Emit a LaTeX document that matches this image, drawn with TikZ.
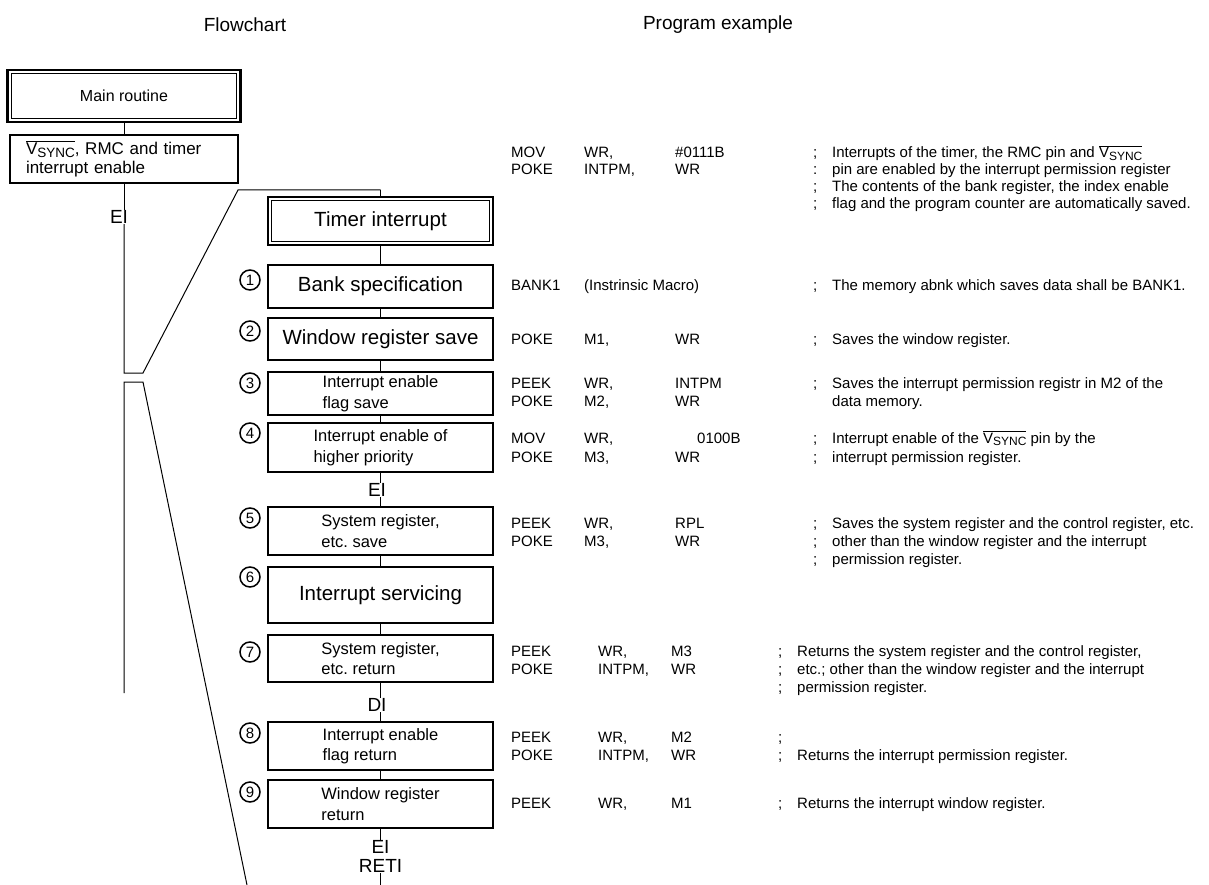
\documentclass[tikz,border=0pt]{standalone}
\usepackage{fontspec}
\setmainfont{Liberation Sans}
\frenchspacing
\newcommand\myfs[1]{\fontsize{#1}{#1}\selectfont}
\newcommand\vsync[1]{\ensuremath{\overline{\mbox{V\raisebox{-0.35ex}{\myfs{#1}SYNC}}}}}
\newcommand\rowA[5]{\makebox[73pt][l]{#1}\makebox[91pt][l]{#2}\makebox[138pt][l]{#3}\makebox[19pt][l]{#4}#5}
\newcommand\rowB[5]{\makebox[87pt][l]{#1}\makebox[73pt][l]{#2}\makebox[107pt][l]{#3}\makebox[19pt][l]{#4}#5}
\begin{document}
\begin{tikzpicture}[x=1pt,y=-1pt,
  box/.style={draw, line width=2.2pt, minimum width=225pt, inner sep=0pt, align=left, font=\fontsize{16.5}{20.5}\selectfont},
  big/.style={font=\myfs{20.5}},
  circ/.style={circle, draw, line width=1.5pt, minimum size=20pt, inner sep=0pt, font=\myfs{15}},
  lbl/.style={inner sep=0.5pt, font=\myfs{19}},
  prog/.style={anchor=base west, inner sep=0pt, font=\myfs{15}},
  conn/.style={line width=1pt},
  inner/.style={line width=0.9pt}]
\fill[white] (0,0) rectangle (1209,885);
\useasboundingbox (0,0) rectangle (1209,885);

% headers
\node[font=\myfs{19}] (hflow) at (245,25) {Flowchart};
\node[font=\myfs{19}] (hprog) at (718,25) {Program example};

% main routine column
\node[box, minimum width=233pt, minimum height=52pt, font=\myfs{16}] (main) at (124,96) {Main routine};
\draw[inner] ([shift={(5,5)}]main.north west) rectangle ([shift={(-5,-5)}]main.south east);
\node[box, minimum width=228pt, minimum height=48pt, text width=196pt, font=\fontsize{17}{19}\selectfont] (vs) at (124,159) {\vsync{13.5}, RMC and timer\\interrupt enable};
\node[lbl] (eiL) at (119,217) {EI};
\coordinate (t1) at (124,373);
\coordinate (t2) at (143,373);
\coordinate (t3) at (238,190);
\coordinate (t4) at (380.5,190);
\coordinate (u0) at (124,693);
\coordinate (u1) at (124,382);
\coordinate (u2) at (143,382);
\coordinate (u3) at (247,885);
\draw[conn] (main.south) -- (vs.north);
\draw[conn] (vs.south) -- (vs.south |- eiL.north);
\draw[conn] (vs.south |- eiL.south) -- (t1) -- (t2) -- (t3) -- (t4);
\draw[conn] (u0) -- (u1) -- (u2) -- (u3);

% interrupt routine column
\node[box, minimum height=48pt, big] (tim) at (380.5,221) {Timer interrupt};
\draw[inner] ([shift={(5,5)}]tim.north west) rectangle ([shift={(-5,-5)}]tim.south east);
\draw[conn] (t4) -- (tim.north);
\node[box, minimum height=43pt, big] (b1) at (380.5,286.5) {Bank specification};
\node[box, minimum height=42pt, big] (b2) at (380.5,339) {Window register save};
\node[box, minimum height=43pt] (b3) at (380.5,393.5) {Interrupt enable\\flag save};
\node[box, minimum height=49pt] (b4) at (380.5,447.5) {Interrupt enable of\\higher priority};
\node[lbl] (ei2) at (377,490) {EI};
\node[box, minimum height=48pt] (b5) at (380.5,531) {System register,\\etc. save};
\node[box, minimum height=56pt, big] (b6) at (380.5,595) {Interrupt servicing};
\node[box, minimum height=47pt] (b7) at (380.5,658.5) {System register,\\etc. return};
\node[lbl] (di) at (377,705) {DI};
\node[box, minimum height=48pt] (b8) at (380.5,746) {Interrupt enable\\flag return};
\node[box, minimum height=48pt] (b9) at (380.5,804) {Window register\\return};
\node[lbl] (ei3) at (380.5,847) {EI};
\node[lbl] (reti) at (380.5,866) {RETI};
\coordinate (bot) at (380.5,885);

\draw[conn] (tim.south) -- (b1.north);
\draw[conn] (b1.south) -- (b2.north);
\draw[conn] (b2.south) -- (b3.north);
\draw[conn] (b3.south) -- (b4.north);
\draw[conn] (b4.south) -- (b4.south |- ei2.north);
\draw[conn] (b4.south |- ei2.south) -- (b5.north);
\draw[conn] (b5.south) -- (b6.north);
\draw[conn] (b6.south) -- (b7.north);
\draw[conn] (b7.south) -- (b7.south |- di.north);
\draw[conn] (b7.south |- di.south) -- (b8.north);
\draw[conn] (b8.south) -- (b9.north);
\draw[conn] (b9.south) -- (ei3.north);
\draw[conn] (reti.south) -- (bot);

% circled numbers
\node[circ] (c1) at (250,280) {1};
\node[circ] (c2) at (250,331) {2};
\node[circ] (c3) at (250,383) {3};
\node[circ] (c4) at (250,433) {4};
\node[circ] (c5) at (250,518) {5};
\node[circ] (c6) at (250,577) {6};
\node[circ] (c7) at (250,652) {7};
\node[circ] (c8) at (250,733) {8};
\node[circ] (c9) at (250,792) {9};

% program example
\node[prog] (p0a) at (511,158) {\rowA{MOV}{WR,}{\#0111B}{;}{Interrupts of the timer, the RMC pin and \vsync{12}}};
\node[prog] (p0b) at (511,175) {\rowA{POKE}{INTPM,}{WR}{:}{pin are enabled by the interrupt permission register}};
\node[prog] (p0c) at (511,192) {\rowA{}{}{}{;}{The contents of the bank register, the index enable}};
\node[prog] (p0d) at (511,209) {\rowA{}{}{}{;}{flag and the program counter are automatically saved.}};

\node[prog] (p1a) at (511,290) {\rowA{BANK1}{(Instrinsic Macro)}{}{;}{The memory abnk which saves data shall be BANK1.}};

\node[prog] (p2a) at (511,344) {\rowA{POKE}{M1,}{WR}{;}{Saves the window register.}};

\node[prog] (p3a) at (511,388) {\rowA{PEEK}{WR,}{INTPM}{;}{Saves the interrupt permission registr in M2 of the}};
\node[prog] (p3b) at (511,406) {\rowA{POKE}{M2,}{WR}{}{data memory.}};

\node[prog] (p4a) at (511,443) {\rowA{MOV}{WR,}{\hspace{22pt}0100B}{;}{Interrupt enable of the \vsync{12} pin by the}};
\node[prog] (p4b) at (511,462) {\rowA{POKE}{M3,}{WR}{;}{interrupt permission register.}};

\node[prog] (p5a) at (511,528) {\rowA{PEEK}{WR,}{RPL}{;}{Saves the system register and the control register, etc.}};
\node[prog] (p5b) at (511,546) {\rowA{POKE}{M3,}{WR}{;}{other than the window register and the interrupt}};
\node[prog] (p5c) at (511,564) {\rowA{}{}{}{;}{permission register.}};

\node[prog] (p7a) at (511,656) {\rowB{PEEK}{WR,}{M3}{;}{Returns the system register and the control register,}};
\node[prog] (p7b) at (511,674) {\rowB{POKE}{INTPM,}{WR}{;}{etc.; other than the window register and the interrupt}};
\node[prog] (p7c) at (511,692) {\rowB{}{}{}{;}{permission register.}};

\node[prog] (p8a) at (511,742) {\rowB{PEEK}{WR,}{M2}{;}{}};
\node[prog] (p8b) at (511,760) {\rowB{POKE}{INTPM,}{WR}{;}{Returns the interrupt permission register.}};

\node[prog] (p9a) at (511,808) {\rowB{PEEK}{WR,}{M1}{;}{Returns the interrupt window register.}};
\end{tikzpicture}
\end{document}
